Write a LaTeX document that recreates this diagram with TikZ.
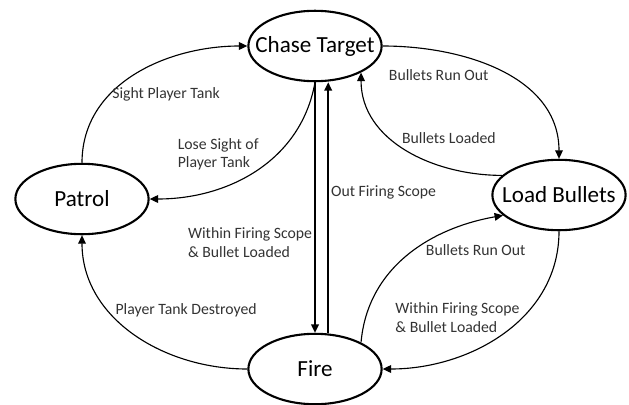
\documentclass[tikz,border=0pt]{standalone}
\usepackage{fontspec}
\setmainfont{Carlito}
\usetikzlibrary{arrows.meta, shapes.geometric, positioning}

\tikzset{
  state/.style={ellipse, draw, line width=1.5pt, minimum width=3.33cm, minimum height=1.76cm, inner sep=0pt, font=\fontsize{16.4}{19}\selectfont},
  trans/.style={-{Triangle[length=6pt, width=5.5pt]}, line width=0.8pt},
  cond/.style={font=\fontsize{11.2}{13.2}\selectfont, text=black!80, align=left, inner sep=1.5pt}
}

\begin{document}
\begin{tikzpicture}[x=0.025cm, y=0.025cm]
  \useasboundingbox (0,0) rectangle (629,404);

  % states
  \foreach \name/\pos/\txt in {chase/{(315,358)}/Chase Target, patrol/{(82,205)}/Patrol, load/{(559,209)}/Load Bullets, fire/{(315,35)}/Fire} {
      \node[state] (\name) at \pos {\makebox[0pt]{\txt}};
    }

  % patrol <-> chase
  \draw[trans] (patrol.north) to[out=90, in=180] node[cond, pos=0.35, anchor=west] {Sight Player Tank} (chase.west);
  \draw[trans] (chase.south) to[out=-100, in=0] node[cond, pos=0.38, anchor=east, xshift=-11pt] {Lose Sight of\\Player Tank} (patrol.east);

  % chase <-> load
  \draw[trans] (chase.east) to[out=0, in=90] node[cond, pos=0.45, anchor=north east] {Bullets Run Out} (load.north);
  \draw[trans] (load.161) to[out=180, in=-90] node[cond, pos=0.6, anchor=west, xshift=6pt] {Bullets Loaded} (chase.-30);

  % chase <-> fire
  \draw[trans, line width=1.1pt] (chase.south) -- node[cond, pos=0.64, anchor=east] {Within Firing Scope\\\& Bullet Loaded} (fire.north);
  \draw[trans, line width=1.1pt] ([xshift=0.33cm]fire.north) -- node[cond, pos=0.56, anchor=west] {Out Firing Scope} ([xshift=0.33cm]chase.south);

  % fire <-> load
  \draw[trans] (fire.30) to[out=85, in=190] node[cond, pos=0.55, anchor=west, xshift=6pt] {Bullets Run Out} (load.200);
  \draw[trans] (load.south) to[out=-90, in=0] node[cond, pos=0.4, anchor=east] {Within Firing Scope\\\& Bullet Loaded} (fire.east);

  % fire -> patrol
  \draw[trans] (fire.west) to[out=180, in=-90] node[cond, pos=0.65, anchor=west, xshift=3pt] {Player Tank Destroyed} (patrol.south);
\end{tikzpicture}
\end{document}
